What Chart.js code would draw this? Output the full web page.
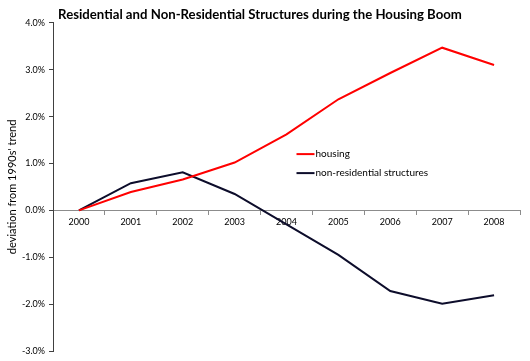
<!DOCTYPE html>
<html>
<head>
<meta charset="utf-8">
<script src="https://cdn.jsdelivr.net/npm/chart.js@4.4.1/dist/chart.umd.min.js"></script>
<style>
  html, body { margin: 0; padding: 0; background: #fff; }
  #wrap { width: 530px; height: 361px; }
</style>
</head>
<body>
<div id="wrap"><canvas id="myChart" width="530" height="361"></canvas></div>
<script>
// data (percent deviation from 1990s' trend)
const years = ["2000", "2001", "2002", "2003", "2004", "2005", "2006", "2007", "2008"];
const housing = [0.0, 0.39, 0.66, 1.02, 1.62, 2.37, 2.93, 3.47, 3.10];
const nonResidential = [0.0, 0.58, 0.81, 0.35, -0.30, -0.95, -1.72, -1.99, -1.81];
const yTicks = [4, 3, 2, 1, 0, -1, -2, -3];

const font = "Lato, 'Open Sans', sans-serif";

// legend drawn inside the plot, like the original
const innerLegend = {
  id: "innerLegend",
  afterDraw(chart) {
    const ctx = chart.ctx;
    const x = chart.scales.x.getPixelForValue(4) + 10;
    let y = chart.scales.y.getPixelForValue(1.2);
    ctx.save();
    ctx.font = "10px " + font;
    ctx.textBaseline = "middle";
    chart.data.datasets.forEach((ds) => {
      ctx.strokeStyle = ds.borderColor;
      ctx.lineWidth = 2;
      ctx.beginPath();
      ctx.moveTo(x, y);
      ctx.lineTo(x + 18, y);
      ctx.stroke();
      ctx.fillStyle = "#000";
      ctx.fillText(ds.label, x + 19, y);
      y += 19;
    });
    ctx.restore();
  },
};

const data = {
  labels: years,
  datasets: [
    {
      label: "housing",
      data: housing,
      borderColor: "#ff0000",
      backgroundColor: "#ff0000",
      borderWidth: 2,
      pointRadius: 0,
      tension: 0,
    },
    {
      label: "non-residential structures",
      data: nonResidential,
      borderColor: "#0d0d2b",
      backgroundColor: "#0d0d2b",
      borderWidth: 2,
      pointRadius: 0,
      tension: 0,
    },
  ],
};

const config = {
  type: "line",
  data: data,
  plugins: [innerLegend],
  options: {
    responsive: false,
    animation: false,
    layout: { padding: { left: 0, right: 10, top: 0, bottom: 10 } },
    plugins: {
      legend: { display: false },
      tooltip: { enabled: false },
      title: {
        display: true,
        text: "Residential and Non-Residential Structures during the Housing Boom",
        color: "#000",
        font: { family: font, size: 13.2, weight: "bold" },
        padding: { top: 7, bottom: 0 },
      },
    },
    scales: {
      x: {
        position: { y: 0 },
        offset: true,
        border: { color: "#8c8c8c", width: 1 },
        grid: { offset: true, drawOnChartArea: false, drawTicks: true, tickLength: 4, color: "#8c8c8c" },
        ticks: { color: "#000", font: { family: font, size: 9 }, padding: 2, maxRotation: 0 },
      },
      y: {
        min: -3,
        max: 4,
        afterBuildTicks: (scale) => {
          scale.ticks = yTicks.map((v) => ({ value: v }));
        },
        afterFit: (scale) => {
          scale.width = 53;
        },
        border: { color: "#404040", width: 1 },
        grid: { drawOnChartArea: false, drawTicks: true, tickLength: 4, color: "#404040" },
        ticks: {
          color: "#000",
          font: { family: font, size: 9 },
          padding: 4,
          callback: (v) => v.toFixed(1) + "%",
        },
        title: {
          display: true,
          text: "deviation from 1990s' trend",
          color: "#000",
          font: { family: font, size: 11 },
          padding: { top: 6, bottom: 0 },
        },
      },
    },
  },
};

new Chart(document.getElementById("myChart").getContext("2d"), config);
</script>
</body>
</html>
